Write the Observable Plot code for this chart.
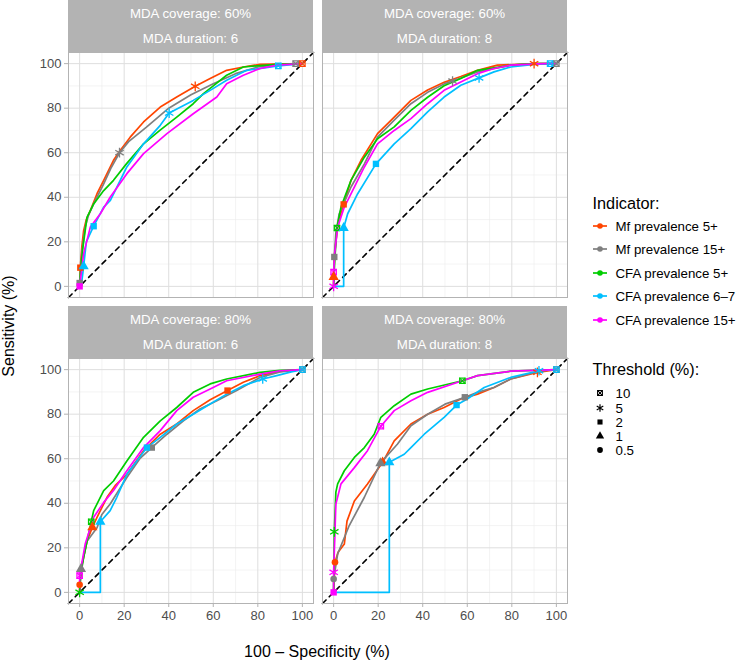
<!DOCTYPE html>
<html><head><meta charset="utf-8">
<script src="https://cdn.jsdelivr.net/npm/d3@7"></script>
<script src="https://cdn.jsdelivr.net/npm/@observablehq/plot@0.6"></script>
<style>
body{margin:0;background:#fff;font-family:"Liberation Sans",Arial,Helvetica,sans-serif;}
#chart{position:relative;width:738px;height:661px;overflow:hidden;background:#fff;}
.strip{position:absolute;width:245px;height:52.5px;background:#b3b3b3;color:#fff;font-size:13.3px;}
.strip div{position:absolute;left:0;right:0;text-align:center;line-height:16px;}
.abs{position:absolute;}
.leg{position:absolute;font-size:13.3px;color:#000;white-space:nowrap;}
</style></head><body><div id="chart"></div>
<script>
// ---- categories ----
const indicators = ["Mf prevalence 5+","Mf prevalence 15+","CFA prevalence 5+","CFA prevalence 6–7","CFA prevalence 15+"];
const indicatorColors = ["#FF4500","#7F7F7F","#00CD00","#00BFFF","#FF00FF"];
const thresholds = ["10","5","2","1","0.5"];
const coverages = [60,60,80,80];
const durations = [6,8,6,8];
const majorTicks = [0,20,40,60,80,100];
const minorTicks = [10,30,50,70,90];
const refLine = [-5,105];

// ---- ROC curves: [100 - specificity, sensitivity] ----
// panel 0: coverage 60%, duration 6
const p0_mf5  = [[0,0],[0.3,8.4],[1,18],[1.8,25],[3,30],[4.8,34],[7.8,41.6],[10.8,47.6],[15.2,56.6],[18.2,61],[22.7,67],[28.7,73.8],[36.2,80.5],[43.6,85],[51.9,89.8],[58.6,93.3],[66,97],[73.5,98.5],[81,99.7],[100,100]];
const p0_mf15 = [[0,0],[0,1.5],[1,15],[2.5,26.6],[4,32],[6.3,37],[10.8,46],[14,53],[17.9,60],[22,65],[30,71.5],[40,80],[50,86],[60,91],[70,95.5],[80,98.5],[90,99.5],[97,100],[100,100]];
const p0_cfa5 = [[0,0],[0.5,8],[1.5,17.7],[3.3,31],[6.3,37],[10.8,43],[15.2,47.6],[21,55],[28.7,64],[36,70],[43.6,76],[51,82],[55.6,86.5],[60,90],[66,94.8],[73.5,98.5],[88.5,99.7],[100,100]];
const p0_cfa67= [[0,0],[0.7,0],[1.8,9],[3,20],[6.3,27],[10.8,35.6],[13.8,38.6],[21.2,53.6],[28.7,64],[36.2,72.3],[40.2,77.8],[51,83.5],[58.6,88],[66,92.5],[75,97],[89.2,99],[100,100]];
const p0_cfa15= [[0,0],[1.8,14.7],[4.8,26.6],[9.3,32.6],[13.7,40],[21.2,50.6],[28.7,59.6],[39.2,68.6],[51,77.5],[61.6,85],[66,91],[73.5,94.8],[81,97.8],[88.5,99.3],[100,100]];
// panel 1: coverage 60%, duration 8
const p1_mf5  = [[0,0],[0,4.2],[0.5,15],[1.5,25],[3,32],[4.5,36.8],[7.8,47.6],[12.3,56.6],[19.7,68.6],[27.2,76],[34.7,83.5],[42.2,88.2],[49.6,91.6],[57.1,94.2],[64.6,97],[73.5,99.3],[90,100],[100,100]];
const p1_mf15 = [[0,0],[0.3,13.2],[1,24],[2.5,32.6],[7.8,44.6],[13.8,55],[19.7,67],[27.2,74.6],[34.7,82],[42.2,87.1],[49.6,90.9],[53.4,92.2],[64.6,96.3],[79.5,99.3],[90,100],[100,100]];
const p1_cfa5 = [[0,0],[0.5,12],[1.5,26.2],[3.3,35.6],[7.8,47.6],[13.8,58],[19.7,66.3],[27.2,71.6],[34.7,79],[42.2,84.9],[49.6,90.1],[57.1,93.3],[64.6,97],[79.5,99.3],[90,100],[100,100]];
const p1_cfa67= [[0,0],[4.5,0],[4.5,26.2],[6.3,32.6],[10.8,41.6],[19,55],[27.2,64],[34.7,70.8],[42.2,78.3],[49.6,85],[57.1,90.3],[65.3,93.6],[72,96.3],[79.5,98.5],[90,99.7],[97.2,100],[100,100]];
const p1_cfa15= [[0,0],[0,6.4],[0.5,15],[1.8,26.6],[4.8,35.6],[9.3,44.6],[13.8,53.6],[19.7,64],[27.2,70],[34.7,75.3],[42.2,82],[49.6,88],[57.1,91.8],[64.6,95.5],[72,97.8],[79.5,99.3],[94.5,100],[100,100]];
// panel 2: coverage 80%, duration 6
const p2_mf5  = [[0,0],[0,3.4],[1,12],[3.3,23],[5.7,29.2],[7.8,33.7],[12.3,42.7],[16,48],[21.2,53],[28.7,63.6],[36.2,71],[43.6,75.6],[51,81.6],[58.6,86.5],[66.4,90.6],[73.5,94.3],[81,97.3],[90,99.2],[100,100]];
const p2_mf15 = [[0,0],[0.6,10.5],[3.3,23],[7.8,29],[10,35],[13.7,39.7],[21.2,51.6],[27,60],[32.4,65],[39.2,71],[46.6,77],[54,82.3],[61.6,86],[70.5,90.6],[81,96.5],[90,99],[100,100]];
const p2_cfa5 = [[0,0],[0.5,8],[1.8,15.7],[5.2,31.7],[6.3,36.7],[10.8,45.7],[15.2,50],[21.2,59],[28.7,69.6],[36.2,77],[43.6,83],[51,89.8],[58.6,93.6],[66,95.8],[81,98.8],[90,99.7],[100,100]];
const p2_cfa67= [[0,0],[9.3,0],[9.3,31.7],[13.7,36.7],[16.7,42.7],[21.2,53],[30.2,65],[36.2,69.6],[43.6,75.6],[51,80],[58.6,84.6],[66,89],[73.5,92.8],[82.2,95.8],[88.5,97.3],[95,99],[100,100]];
const p2_cfa15= [[0,0],[0,7.5],[2.5,21.7],[6.3,33.7],[10.8,40.4],[15.2,45.7],[21.2,54.6],[28.7,65],[36.2,72.6],[43.6,81.6],[51,87.6],[58.6,91.3],[66,95],[81,98],[90,99.5],[100,100]];
// panel 3: coverage 80%, duration 8
const p3_mf5  = [[0,0],[0.6,13.5],[2,18],[4.8,21.7],[6,32],[9.3,41],[15.2,48.7],[22,58.4],[27.2,68],[34.7,75.6],[42.2,80],[49.6,83],[57.1,86.8],[64.6,89],[72,92],[79.5,95.8],[91.5,98.8],[100,100]];
const p3_mf15 = [[0,0],[0,6],[1.8,17.2],[7,30],[13.8,42.7],[21,58],[28.7,66.6],[34.7,74.8],[42.2,80],[50,84.5],[58.9,87.6],[64.6,89.8],[72,92],[79.5,95.8],[93,99.5],[100,100]];
const p3_cfa5 = [[0,0],[0.3,27.2],[1,45],[1.8,48.7],[4.8,54.6],[9.3,60.6],[13.8,65],[18.2,71],[21.2,78.6],[27.2,83.8],[34.7,89],[42.2,91.3],[57.8,95],[64.6,97.3],[79.5,99.3],[100,100]];
const p3_cfa67= [[0,0],[25,0],[25,58.4],[31.7,62],[34.7,65],[40.7,71],[49.6,78.6],[55.2,84.1],[60,86.8],[67.6,92],[79.5,96.5],[92.2,99.5],[100,100]];
const p3_cfa15= [[0,0],[0,9],[1,39.7],[3.3,48.7],[9.3,56],[15.2,63.6],[21.2,74.6],[27.2,81.6],[34.7,86],[42.2,89.8],[57.8,95],[64.6,97.3],[79.5,99.3],[100,100]];

// ---- threshold markers: [indicator index, threshold, x, y] ----
const p0_marks = [[0,"2",0.3,8.4],[0,"5",51.9,89.8],[0,"10",100,100],[1,"2",0,1.5],[1,"5",17.9,60],[1,"10",97,100],
  [3,"1",1.8,9],[3,"2",6.3,27],[3,"5",40.2,77.8],[3,"10",89.2,99],[4,"2",0,0]];
const p1_marks = [[0,"1",0,4.2],[0,"2",4.5,36.8],[0,"5",90,100],[1,"2",0.3,13.2],[1,"5",53.4,92.2],[1,"10",100,100],
  [2,"10",1.5,26.2],[3,"1",4.5,26.2],[3,"2",19,55],[3,"5",65.3,93.6],[3,"10",97.2,100],[4,"10",0,6.4],[4,"5",0,0]];
const p2_marks = [[2,"5",0,0],[2,"10",5.2,31.7],[4,"10",0,7.5],[0,"0.5",0,3.4],[0,"1",5.7,29.2],[0,"2",66.4,90.6],
  [1,"1",0.6,10.5],[1,"2",32.4,65],[1,"10",100,100],[3,"1",9.3,31.7],[3,"2",30.2,65],[3,"5",82.2,95.8],[3,"10",100,100]];
const p3_marks = [[2,"5",0.3,27.2],[2,"10",57.8,95],[4,"5",0,9],[4,"2",0,0],[4,"10",21.2,74.6],[0,"0.5",0.6,13.5],[0,"1",22,58.4],[0,"5",91.5,98.8],
  [1,"0.5",0,6],[1,"1",21,58],[1,"2",58.9,87.6],[1,"10",100,100],[3,"1",25,58.4],[3,"2",55.2,84.1],[3,"5",92.2,99.5],[3,"10",100,100]];

const panelCurves = [
  [p0_mf5,p0_mf15,p0_cfa5,p0_cfa67,p0_cfa15],
  [p1_mf5,p1_mf15,p1_cfa5,p1_cfa67,p1_cfa15],
  [p2_mf5,p2_mf15,p2_cfa5,p2_cfa67,p2_cfa15],
  [p3_mf5,p3_mf15,p3_cfa5,p3_cfa67,p3_cfa15]];
const panelMarks = [p0_marks,p1_marks,p2_marks,p3_marks];

const FONT = '"Liberation Sans", Arial, Helvetica, sans-serif';
const chart = document.getElementById("chart");
const PW = 245, PH = 245;
const layout = [ {left:68, top:52, sx:false, sy:true}, {left:322, top:52, sx:false, sy:false},
                 {left:68, top:358, sx:true, sy:true}, {left:322, top:358, sx:true, sy:false} ];

layout.forEach((L, i) => {
  const ml = L.sy ? 40 : 0, mb = L.sx ? 26 : 0;
  const rows = [];
  panelCurves[i].forEach((arr, k) => arr.forEach(([x,y]) => rows.push({x, y, ind: indicators[k]})));
  const pts = panelMarks[i].map(([k,thr,x,y]) => ({ind: indicators[k], thr, x, y}));
  const byThr = t => pts.filter(p => p.thr === t);
  const marks = [
    Plot.gridX(minorTicks, {stroke:"#ececec", strokeOpacity:1, strokeWidth:0.6}),
    Plot.gridY(minorTicks, {stroke:"#ececec", strokeOpacity:1, strokeWidth:0.6}),
    Plot.gridX(majorTicks, {stroke:"#dedede", strokeOpacity:1, strokeWidth:1}),
    Plot.gridY(majorTicks, {stroke:"#dedede", strokeOpacity:1, strokeWidth:1}),
    Plot.line(refLine, {x:d=>d, y:d=>d, stroke:"black", strokeWidth:1.6, strokeDasharray:"5,4.5"}),
    Plot.line(rows, {x:"x", y:"y", z:"ind", stroke:"ind", strokeWidth:1.7}),
    Plot.dot(byThr("10"), {x:"x", y:"y", stroke:"ind", symbol:"square2", r:3.4, strokeWidth:1.3}),
    Plot.dot(byThr("10"), {x:"x", y:"y", stroke:"ind", symbol:"times", r:2.8, strokeWidth:1.1}),
    Plot.dot(byThr("5"), {x:"x", y:"y", stroke:"ind", symbol:"asterisk", r:4.6, strokeWidth:1.3}),
    Plot.dot(byThr("2"), {x:"x", y:"y", fill:"ind", symbol:"square", r:3.6}),
    Plot.dot(byThr("1"), {x:"x", y:"y", fill:"ind", symbol:"triangle", r:3.8}),
    Plot.dot(byThr("0.5"), {x:"x", y:"y", fill:"ind", symbol:"circle", r:3.3}),
    Plot.frame({stroke:"#b3b3b3", strokeWidth:1})
  ];
  if (L.sy) marks.push(Plot.axisY(majorTicks, {label:null, tickSize:4, tickPadding:3, stroke:"#b3b3b3", fill:"#4d4d4d", fontSize:13}));
  if (L.sx) marks.push(Plot.axisX(majorTicks, {label:null, tickSize:4, tickPadding:3, stroke:"#b3b3b3", fill:"#4d4d4d", fontSize:13}));
  const svg = Plot.plot({
    width: ml + PW, height: PH + mb,
    marginLeft: ml, marginRight: 0, marginTop: 0, marginBottom: mb,
    x: {domain:[-5,105], axis:null},
    y: {domain:[-5,105], axis:null},
    color: {domain: indicators, range: indicatorColors},
    style: {background:"transparent", fontFamily: FONT, fontSize:"13px", overflow:"visible"},
    marks
  });
  svg.classList.add("abs");
  svg.style.left = (L.left - ml) + "px";
  svg.style.top = L.top + "px";
  chart.appendChild(svg);

  const strip = document.createElement("div");
  strip.className = "strip";
  strip.style.left = L.left + "px";
  strip.style.top = (L.top - 52.5) + "px";
  strip.innerHTML = `<div style="top:6px">MDA coverage: ${coverages[i]}%</div><div style="top:31px">MDA duration: ${durations[i]}</div>`;
  chart.appendChild(strip);
});

// axis titles
const yt = document.createElement("div");
yt.className = "leg";
yt.style.cssText += "left:9px;top:326px;font-size:16px;transform:translate(-50%,-50%) rotate(-90deg);";
yt.textContent = "Sensitivity (%)";
chart.appendChild(yt);
const xt = document.createElement("div");
xt.className = "leg";
xt.style.cssText += "left:317px;top:652px;font-size:16px;transform:translate(-50%,-50%);";
xt.textContent = "100 – Specificity (%)";
chart.appendChild(xt);

// legend: indicators
function addText(txt, x, y, size) {
  const d = document.createElement("div");
  d.className = "leg";
  d.style.left = x + "px"; d.style.top = y + "px";
  d.style.fontSize = size + "px";
  d.style.transform = "translateY(-50%)";
  d.textContent = txt;
  chart.appendChild(d);
}
addText("Indicator:", 592.5, 203, 16.3);
indicators.forEach((name, k) => {
  const y = 226 + k * 23.4;
  const s = d3.create("svg").attr("width", 20).attr("height", 10).attr("class","abs")
    .style("left", "590px").style("top", (y - 5) + "px");
  s.append("line").attr("x1", 3).attr("x2", 17).attr("y1", 5).attr("y2", 5).attr("stroke", indicatorColors[k]).attr("stroke-width", 1.7);
  s.append("circle").attr("cx", 10).attr("cy", 5).attr("r", 2.8).attr("fill", indicatorColors[k]);
  chart.appendChild(s.node());
  addText(name, 615.5, y, 13.3);
});

// legend: thresholds
addText("Threshold (%):", 592.5, 368.5, 16.3);
const symMap = {"10":"sqx","5":"ast","2":"sq","1":"tri","0.5":"cir"};
thresholds.forEach((t, k) => {
  const y = 393.3 + k * 14.2;
  const s = d3.create("svg").attr("width", 14).attr("height", 14).attr("class","abs")
    .style("left", "593px").style("top", (y - 7) + "px");
  const g = s.append("g").attr("transform", "translate(7,7)");
  const kind = symMap[t];
  if (kind === "sqx") {
    g.append("path").attr("d", d3.symbol(d3.symbolSquare2, 28)()).attr("fill","none").attr("stroke","#000").attr("stroke-width",1.2);
    g.append("path").attr("d", d3.symbol(d3.symbolTimes, 14)()).attr("fill","none").attr("stroke","#000").attr("stroke-width",1);
  } else if (kind === "ast") {
    g.append("path").attr("d", d3.symbol(d3.symbolAsterisk, 40)()).attr("fill","none").attr("stroke","#000").attr("stroke-width",1.2);
  } else if (kind === "sq") {
    g.append("path").attr("d", d3.symbol(d3.symbolSquare, 26)()).attr("fill","#000");
  } else if (kind === "tri") {
    g.append("path").attr("d", d3.symbol(d3.symbolTriangle, 30)()).attr("fill","#000");
  } else {
    g.append("path").attr("d", d3.symbol(d3.symbolCircle, 26)()).attr("fill","#000");
  }
  chart.appendChild(s.node());
  addText(t, 615.5, y, 13.3);
});
</script></body></html>
